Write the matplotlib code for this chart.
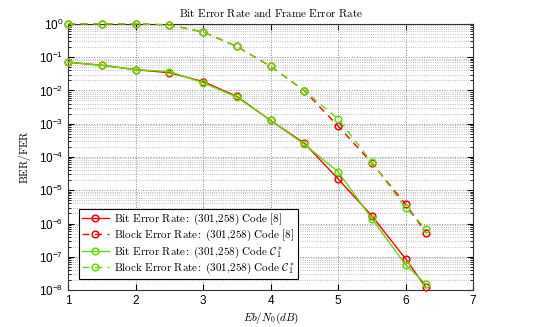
import numpy as np
import matplotlib
matplotlib.use("Agg")
import matplotlib.pyplot as plt
from matplotlib.ticker import FixedLocator, NullFormatter

plt.rcParams['mathtext.fontset'] = 'cm'
plt.rcParams['font.family'] = ['Liberation Sans', 'DejaVu Sans']

# Eb/N0 points (dB)
ebn0 = [1, 1.5, 2, 2.5, 3, 3.5, 4, 4.5, 5, 5.5, 6, 6.3]

# Code [8]
ber_ref = [0.07, 0.057, 0.042, 0.034, 0.0185, 0.0066, 0.00125, 2.6e-4, 2.2e-5, 1.7e-6, 8.7e-8, 1.2e-8]
fer_ref = [1.0, 1.0, 1.0, 0.93, 0.57, 0.21, 0.053, 0.0098, 8.5e-4, 6.6e-5, 3.8e-6, 5.3e-7]

# Code C1*
ber_c1 = [0.07, 0.057, 0.042, 0.037, 0.017, 0.0063, 0.00125, 2.4e-4, 3.6e-5, 1.4e-6, 5.8e-8, 1.5e-8]
fer_c1 = [1.0, 1.0, 1.0, 0.93, 0.57, 0.21, 0.053, 0.0098, 1.4e-3, 6.9e-5, 3.0e-6, 6.9e-7]

red = '#ff0000'
green = '#5fe000'

fig = plt.figure(figsize=(5.45, 3.27), dpi=100)
ax = fig.add_axes([0.125, 0.113, 0.743, 0.814])

mk = dict(marker='o', markersize=4.8, markerfacecolor='none', markeredgewidth=1.1,
          linewidth=1.0, clip_on=False, zorder=3)
ax.semilogy(ebn0, ber_ref, '-', color=red, label=r'$\mathrm{Bit\ Error\ Rate\!:\ (301{,}258)\ Code\ [8]}$', **mk)
ax.semilogy(ebn0, fer_ref, '--', color=red, dashes=(5, 4), label=r'$\mathrm{Block\ Error\ Rate\!:\ (301{,}258)\ Code\ [8]}$', **mk)
ax.semilogy(ebn0, ber_c1, '-', color=green, label=r'$\mathrm{Bit\ Error\ Rate\!:\ (301{,}258)\ Code\ }\mathcal{C}_1^*$', **mk)
ax.semilogy(ebn0, fer_c1, '--', color=green, dashes=(5, 4), label=r'$\mathrm{Block\ Error\ Rate\!:\ (301{,}258)\ Code\ }\mathcal{C}_1^*$', **mk)

ax.set_xlim(1, 7)
ax.set_ylim(1e-8, 1)
ax.set_xticks([1, 2, 3, 4, 5, 6, 7])
decades = [10.0 ** -k for k in range(9)]
ax.set_yticks(decades)
minors = [m * d for d in decades[1:] for m in range(2, 10)]
ax.yaxis.set_minor_locator(FixedLocator(minors))
ax.yaxis.set_minor_formatter(NullFormatter())

ax.grid(True, which='major', linestyle=':', color='#888888', linewidth=0.7)
ax.grid(True, which='minor', axis='y', linestyle=':', color='#aaaaaa', linewidth=0.6)
ax.tick_params(which='both', direction='in', top=True, right=True, labelsize=8.5)
ax.tick_params(which='major', length=4)
ax.tick_params(which='minor', length=2)
for s in ax.spines.values():
    s.set_linewidth(0.8)
    s.set_color('#333333')

ax.set_title(r'$\mathrm{Bit\ Error\ Rate\ and\ Frame\ Error\ Rate}$', fontsize=8, pad=5)
ax.set_xlabel(r'$Eb/N_0(dB)$', fontsize=8, labelpad=3)
ax.set_ylabel(r'$\mathrm{BER/FER}$', fontsize=8, labelpad=4)

leg = ax.legend(loc='lower left', fontsize=8, fancybox=False, edgecolor='black',
                framealpha=1, borderaxespad=1.0, handlelength=2.4, handletextpad=0.5,
                labelspacing=0.1, borderpad=0.25)
leg.get_frame().set_linewidth(0.8)
leg.set_zorder(5)

fig.savefig('out.png', dpi=100)
